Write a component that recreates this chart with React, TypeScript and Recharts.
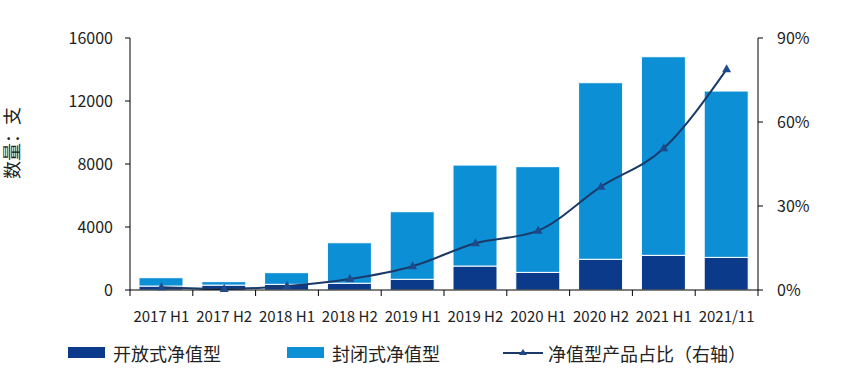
import React from 'react';
import { ComposedChart, Bar, Line, XAxis, YAxis, Legend } from 'recharts';

const categories = ['2017 H1', '2017 H2', '2018 H1', '2018 H2', '2019 H1', '2019 H2', '2020 H1', '2020 H2', '2021 H1', '2021/11'];
const openValues = [250, 310, 360, 430, 680, 1520, 1120, 1950, 2200, 2070];
const closedValues = [530, 220, 740, 2570, 4290, 6410, 6710, 11210, 12610, 10560];
const shareValues = [1.0, 0.4, 1.4, 3.9, 8.5, 16.7, 21.2, 36.9, 50.6, 78.8];
const leftTicks = [0, 4000, 8000, 12000, 16000];
const rightTicks = [0, 30, 60, 90];

const data = categories.map((name, i) => ({
  name,
  open: openValues[i],
  closed: closedValues[i],
  share: shareValues[i],
}));

const DARK = '#0b3a8a';
const LIGHT = '#0d8fd6';
const LINE = '#1c3a68';
const MARK = '#1d4a8c';
const FONT = '"Noto Sans CJK SC", "Noto Sans", sans-serif';

const PLOT_W = 628;
const STEP = PLOT_W / categories.length;

const Triangle = (props: any) => {
  const { cx, cy, index } = props;
  if (cx == null || cy == null) return null;
  return <path key={`t${index}`} d={`M${cx},${cy - 5} L${cx + 4.5},${cy + 3} L${cx - 4.5},${cy + 3} Z`} fill={MARK} />;
};

const CategoryTick = (props: any) => {
  const { x, y, payload, index } = props;
  return (
    <g>
      <line x1={x - STEP / 2} y1={y} x2={x - STEP / 2} y2={y + 6} stroke="#000" />
      {index === categories.length - 1 && (
        <line x1={x + STEP / 2} y1={y} x2={x + STEP / 2} y2={y + 6} stroke="#000" />
      )}
      <text x={x} y={y + 25} textAnchor="middle" dominantBaseline="central" fontSize={15} fill="#222" fontFamily={FONT}>
        {payload.value}
      </text>
    </g>
  );
};

const renderYLabel = () => (
  <text x={11} y={143} transform="rotate(-90 11 143)" textAnchor="middle" dominantBaseline="central" fontSize={18} fill="#222" fontFamily={FONT}>
    数量：支
  </text>
);

const renderLegend = () => (
  <div style={{ position: 'relative', height: 24, fontFamily: FONT, fontSize: 18, color: '#222' }}>
    <div style={{ position: 'absolute', left: 68, top: 6, width: 37, height: 11, background: DARK }} />
    <span style={{ position: 'absolute', left: 113, top: 0, lineHeight: '24px', whiteSpace: 'nowrap' }}>开放式净值型</span>
    <div style={{ position: 'absolute', left: 287, top: 6, width: 37, height: 11, background: LIGHT }} />
    <span style={{ position: 'absolute', left: 332, top: 0, lineHeight: '24px', whiteSpace: 'nowrap' }}>封闭式净值型</span>
    <svg style={{ position: 'absolute', left: 503, top: 0 }} width={40} height={24}>
      <line x1={0} y1={12} x2={40} y2={12} stroke={LINE} strokeWidth={2} />
      <path d="M20,8 L24,14 L16,14 Z" fill={MARK} />
    </svg>
    <span style={{ position: 'absolute', left: 548, top: 0, lineHeight: '24px', whiteSpace: 'nowrap' }}>净值型产品占比（右轴）</span>
  </div>
);

export default function App() {
  return (
    <div style={{ position: 'absolute', left: 0, top: 0, background: '#fff' }}>
      <ComposedChart width={844} height={386} data={data} margin={{ top: 38, right: 0, bottom: 0, left: 0 }} barSize={44}>
        <XAxis
          dataKey="name"
          height={96}
          axisLine={{ stroke: '#000' }}
          tickLine={false}
          tickSize={0}
          tickMargin={0}
          interval={0}
          tick={<CategoryTick />}
        />
        <YAxis
          yAxisId="left"
          width={130}
          domain={[0, 16000]}
          ticks={leftTicks}
          axisLine={{ stroke: '#000' }}
          tickLine={{ stroke: '#000' }}
          tickSize={5}
          tickMargin={12}
          tick={{ fontSize: 16, fill: '#222', fontFamily: FONT }}
          label={renderYLabel}
        />
        <YAxis
          yAxisId="right"
          orientation="right"
          width={86}
          domain={[0, 90]}
          ticks={rightTicks}
          tickFormatter={(v: number) => `${v}%`}
          axisLine={{ stroke: '#000' }}
          tickLine={{ stroke: '#000' }}
          tickSize={5}
          tickMargin={14}
          tick={{ fontSize: 16, fill: '#222', fontFamily: FONT, textAnchor: 'start' }}
        />
        <Legend
          layout="vertical"
          align="center"
          verticalAlign="middle"
          wrapperStyle={{ top: 341, left: 0, width: 844 }}
          content={renderLegend}
        />
        <Bar yAxisId="left" dataKey="open" stackId="a" fill={DARK} stroke="#fff" strokeWidth={1} isAnimationActive={false} />
        <Bar yAxisId="left" dataKey="closed" stackId="a" fill={LIGHT} stroke="#fff" strokeWidth={1} isAnimationActive={false} />
        <Line
          yAxisId="right"
          type="monotone"
          dataKey="share"
          stroke={LINE}
          strokeWidth={2}
          dot={<Triangle />}
          activeDot={false}
          isAnimationActive={false}
        />
      </ComposedChart>
    </div>
  );
}
